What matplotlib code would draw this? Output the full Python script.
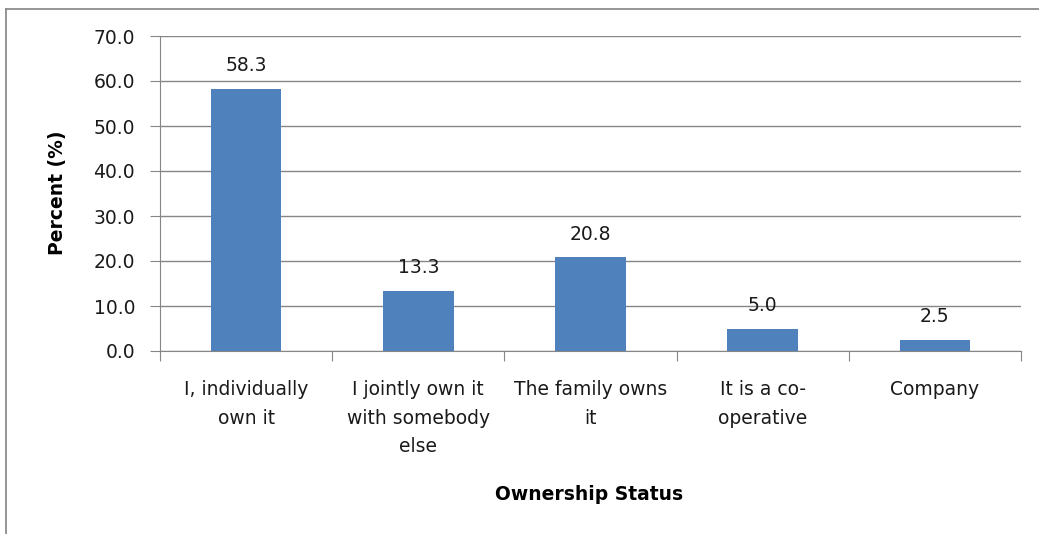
import matplotlib
matplotlib.use('Agg')
import matplotlib.pyplot as plt
from matplotlib.lines import Line2D

# ---------------------- DATA

categories = ["I, individually\nown it",
              "I jointly own it\nwith somebody\nelse",
              "The family owns\nit",
              "It is a co-\noperative",
              "Company"]
percent = [58.3, 13.3, 20.8, 5.0, 2.5]
yticks = [0, 10, 20, 30, 40, 50, 60, 70]

# ---------------------- STYLE

plt.rcParams['font.family'] = ['DejaVu Sans']
bar_color = "#4F81BD"
grid_color = "#868686"
fs = 13.5

W, H = 1039, 534
fig = plt.figure(figsize=(W / 100, H / 100), dpi=100)

# Chart frame: only top and left edges fall inside the image
frame = dict(transform=fig.transFigure, color="#8c8c8c", linewidth=1.3)
fig.lines.append(Line2D([5.5 / W, 1], [1 - 8.5 / H, 1 - 8.5 / H], **frame))
fig.lines.append(Line2D([5.5 / W, 5.5 / W], [0, 1 - 8.5 / H], **frame))

ax = fig.add_axes([160 / W, 1 - 351 / H, (1021 - 160) / W, (351 - 36) / H])

x = range(len(categories))
ax.bar(x, percent, width=0.41, color=bar_color, zorder=3)

for xi, v in zip(x, percent):
    ax.annotate("%.1f" % v, (xi, v), xytext=(0, 10), textcoords="offset points",
                ha="center", va="bottom", fontsize=fs, color="#1a1a1a")

ax.set_xlim(-0.5, len(categories) - 0.5)
ax.set_ylim(0, 70)
ax.set_yticks(yticks)
ax.set_yticklabels(["%.1f" % t for t in yticks], fontsize=fs, color="#1a1a1a")
ax.yaxis.grid(True, color=grid_color, linewidth=1.0, zorder=0)

# Category labels centred under each bar, ticks at the boundaries
ax.set_xticks([i + 0.5 for i in range(-1, len(categories))])
ax.set_xticklabels([])
ax.set_xticks(list(x), minor=True)
ax.set_xticklabels(categories, minor=True, fontsize=fs, linespacing=1.63,
                   color="#1a1a1a")
ax.tick_params(axis="x", which="minor", length=0, pad=21)
ax.tick_params(axis="x", which="major", length=7, color=grid_color, direction="out")
ax.tick_params(axis="y", length=7, color=grid_color, pad=11)

for side in ["top", "right"]:
    ax.spines[side].set_visible(False)
ax.spines["left"].set_color(grid_color)
ax.spines["bottom"].set_color(grid_color)

fig.text(57 / W, 1 - 193 / H, "Percent (%)", rotation=90, ha="center",
         va="center", fontsize=fs, fontweight="bold")
fig.text(589 / W, 1 - 495 / H, "Ownership Status", ha="center", va="center",
         fontsize=fs, fontweight="bold")

fig.savefig("out.png", dpi=100, facecolor="white")
plt.close()
